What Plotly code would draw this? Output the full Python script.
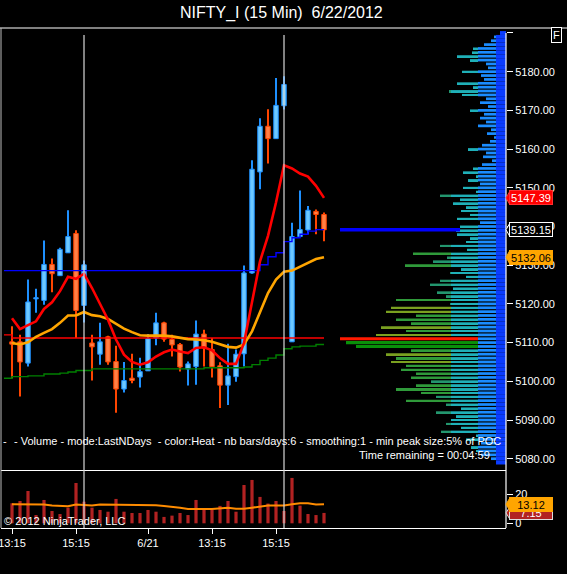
import plotly.graph_objects as go

# ---------------- data ----------------
bar_index = list(range(40))
opens = [5110.2, 5110.2, 5104.7, 5121.3, 5120.9, 5130.2, 5127.3, 5133.2, 5138.2, 5119.6,
         5109.9, 5107.0, 5111.5, 5105.1, 5098.0, 5100.8, 5101.1, 5102.7, 5111.2, 5115.1,
         5110.8, 5109.5, 5103.2, 5103.8, 5112.2, 5108.2, 5104.0, 5099.0, 5101.2, 5107.1,
         5128.0, 5154.1, 5165.9, 5162.7, 5171.2, 5110.2, 5137.4, 5139.1, 5143.9, 5143.1]
highs = [5114.2, 5112.0, 5126.3, 5123.9, 5136.4, 5131.7, 5134.5, 5144.2, 5139.0, 5131.2,
         5112.0, 5115.1, 5111.8, 5109.2, 5105.0, 5107.1, 5106.1, 5112.2, 5117.7, 5115.4,
         5112.0, 5109.9, 5105.1, 5115.7, 5113.3, 5111.2, 5104.9, 5109.7, 5108.2, 5129.9,
         5157.1, 5168.0, 5170.3, 5178.4, 5178.8, 5141.0, 5149.3, 5145.3, 5144.4, 5143.6]
lows = [5100.8, 5096.1, 5103.8, 5117.7, 5119.8, 5123.0, 5127.2, 5133.2, 5111.2, 5115.2,
        5100.2, 5104.3, 5104.3, 5091.9, 5097.1, 5099.5, 5098.4, 5102.7, 5109.3, 5110.2,
        5106.4, 5102.5, 5098.9, 5099.1, 5103.8, 5101.0, 5093.1, 5093.9, 5099.9, 5103.8,
        5127.8, 5149.6, 5156.3, 5162.7, 5170.2, 5110.2, 5137.2, 5138.0, 5138.0, 5136.2]
closes = [5109.6, 5105.0, 5120.5, 5121.6, 5130.2, 5127.8, 5134.1, 5137.4, 5118.3, 5130.1,
          5108.9, 5110.2, 5105.0, 5098.0, 5100.2, 5100.2, 5102.5, 5111.0, 5115.1, 5110.9,
          5109.4, 5103.7, 5104.5, 5112.2, 5108.6, 5103.8, 5099.0, 5101.4, 5107.0, 5128.0,
          5154.8, 5165.9, 5162.7, 5171.3, 5176.7, 5137.4, 5139.2, 5144.2, 5143.1, 5139.15]

fast_ma = [5116.3, 5113.5, 5114.5, 5115.5, 5118.7, 5120.4, 5123.3, 5127.0, 5126.5, 5127.8,
           5124.1, 5120.1, 5115.9, 5110.8, 5106.9, 5105.0, 5104.3, 5104.9, 5106.4, 5107.5,
           5108.2, 5107.7, 5107.3, 5108.6, 5108.8, 5108.0, 5106.0, 5104.5, 5104.5, 5109.9,
           5120.3, 5131.0, 5137.6, 5146.2, 5155.8, 5155.0, 5153.7, 5152.9, 5150.5, 5147.39]
slow_ma = [5109.9, 5109.5, 5110.1, 5111.5, 5112.5, 5113.5, 5115.1, 5117.0, 5117.0, 5117.9,
           5117.1, 5116.8, 5116.1, 5114.8, 5113.6, 5112.7, 5111.9, 5111.8, 5111.8, 5111.8,
           5111.6, 5111.2, 5110.9, 5110.8, 5110.6, 5110.2, 5109.5, 5108.9, 5108.7, 5109.5,
           5112.9, 5118.1, 5122.8, 5126.3, 5128.3, 5128.6, 5129.6, 5130.6, 5131.6, 5132.06]

step_index = list(range(-1, 40))
trend_level = [5128.6] * 32 + [5130.1, 5132.2, 5133.2, 5136.1, 5137.1, 5138.0, 5138.8, 5139.2, 5139.2]
support_level = [5100.8, 5101.2, 5101.2, 5101.4, 5101.4, 5101.9, 5101.9, 5102.1, 5102.4, 5102.8,
                 5102.8] + [5103.2] * 14 + [5103.5] * 5 + [5103.7, 5104.3, 5105.4, 5106.0, 5106.8,
                 5108.4, 5108.9, 5109.1, 5109.1, 5109.5, 5109.5]
pivot_level = [5112.0] + [5111.2] * 40

volume = [13.8, 15.4, 22.3, 5.7, 16.1, 8.5, 6.4, 10.8, 27.8, 14.9,
          10.8, 9.2, 8.0, 16.8, 8.0, 7.1, 7.1, 9.2, 8.0, 4.4,
          5.3, 7.1, 5.7, 16.1, 9.2, 9.2, 12.0, 15.4, 8.0, 26.4,
          29.9, 18.2, 13.6, 15.4, 8.5, 31.3, 12.2, 6.4, 5.7, 7.15]
volume_ma = [13.1, 13.1, 13.1, 12.9, 12.9, 12.2, 11.7, 11.7, 12.9, 12.6,
             12.2, 12.9, 12.9, 12.9, 12.9, 12.9, 12.9, 12.9, 12.4, 12.0,
             11.5, 10.8, 9.9, 10.1, 9.9, 9.9, 10.3, 10.8, 10.1, 10.1,
             10.8, 11.7, 12.2, 12.2, 12.2, 13.1, 13.8, 13.8, 12.9, 13.12]

profile_prices = list(range(5190, 5078, -1))
profile_volume = [6, 12, 15, 22, 33, 34, 49, 36, 20, 18,
                  44, 25, 22, 49, 33, 57, 44, 20, 26, 18,
                  36, 22, 26, 20, 28, 15, 19, 12, 16, 24,
                  38, 20, 23, 14, 24, 33, 43, 30, 38, 26,
                  43, 30, 66, 46, 53, 40, 45, 36, 49, 26,
                  46, 50, 49, 36, 40, 66, 39, 93, 59, 73,
                  101, 45, 56, 40, 66, 76, 53, 69, 60, 110,
                  56, 115, 120, 90, 110, 95, 125, 100, 130, 166,
                  160, 150, 95, 120, 110, 115, 100, 105, 90, 95,
                  75, 90, 110, 85, 70, 100, 60, 45, 70, 50,
                  55, 60, 45, 65, 30, 40, 25, 35, 30, 25,
                  15, 10]

xtick_pos = [0, 8, 17, 25, 33]
xtick_text = ["13:15", "15:15", "6/21", "13:15", "15:15"]
price_ticks = list(range(5080, 5191, 10))
volume_ticks = [0, 20]
session_lines = [9, 34]

# ---------------- layout geometry ----------------
W, H = 567, 574
LM, RM, TM, BM = 1, 61, 28, 46
PW, PH = W - LM - RM, H - TM - BM


def pxx(px):
    return (px - LM) / PW


def pxy(py):
    return (H - BM - py) / PH


FONT = "Liberation Sans, Arial, sans-serif"
UP_FILL, UP_LINE = "#6cc8ff", "#1e90ff"
DN_FILL, DN_LINE = "#ff7f45", "#ff4500"

up = [c >= o for o, c in zip(opens, closes)]
fills = [UP_FILL if u else DN_FILL for u in up]
edges = [UP_LINE if u else DN_LINE for u in up]

fig = go.Figure()

# wicks
fig.add_trace(go.Bar(x=bar_index, y=[h - l for h, l in zip(highs, lows)], base=lows,
                     width=0.2, marker=dict(color=edges, line=dict(width=0)),
                     xaxis="x", yaxis="y", hoverinfo="skip"))
# bodies
fig.add_trace(go.Bar(x=bar_index, y=[max(abs(c - o), 0.25) for o, c in zip(opens, closes)],
                     base=[min(o, c) for o, c in zip(opens, closes)],
                     width=0.56, marker=dict(color=fills, line=dict(color=edges, width=1)),
                     xaxis="x", yaxis="y"))

# indicator lines
fig.add_trace(go.Scatter(x=step_index, y=trend_level, mode="lines", line_shape="hv",
                         line=dict(color="#0000ff", width=1.4), xaxis="x", yaxis="y"))
fig.add_trace(go.Scatter(x=step_index, y=support_level, mode="lines", line_shape="hv",
                         line=dict(color="#008000", width=1.4), xaxis="x", yaxis="y"))
fig.add_trace(go.Scatter(x=step_index, y=pivot_level, mode="lines", line_shape="hv",
                         line=dict(color="#ff0000", width=1.4), xaxis="x", yaxis="y"))
fig.add_trace(go.Scatter(x=bar_index, y=slow_ma, mode="lines",
                         line=dict(color="#ffa500", width=2.6), xaxis="x", yaxis="y"))
fig.add_trace(go.Scatter(x=bar_index, y=fast_ma, mode="lines",
                         line=dict(color="#ff0000", width=2.6), xaxis="x", yaxis="y"))

# volume panel
fig.add_trace(go.Bar(x=bar_index, y=volume, width=0.4, marker=dict(color="#b22222", line=dict(width=0)),
                     xaxis="x2", yaxis="y2"))
fig.add_trace(go.Scatter(x=bar_index, y=volume_ma, mode="lines",
                         line=dict(color="#ff8c00", width=2), xaxis="x2", yaxis="y2"))

# volume profile (drawn leftwards from the price axis, coloured in heat bands)
SEG_A, SEG_B, SEG_C = 10, 28, 55
POC = max(profile_volume)


def heat(v):
    if v >= POC:
        return "#ff1a00"
    if v >= 140:
        return "#0a900a"
    if v >= 112:
        return "#7aa020"
    if v >= 85:
        return "#2f9a3a"
    return "#23966e"


def thick(v, w):
    return 0.8 if v >= 140 else w


segments = [
    (0, SEG_A, 1.0, lambda v: "#0a3cff"),
    (SEG_A, SEG_B, 0.7, lambda v: "#1a8cff"),
    (SEG_B, SEG_C, 0.5, lambda v: heat(v) if v >= 140 else "#1fb0b8"),
    (SEG_C, 10 ** 6, 0.5, heat),
]
for lo, hi, w, colf in segments:
    fig.add_trace(go.Bar(orientation="h", y=profile_prices,
                         x=[max(0, min(v, hi) - lo) for v in profile_volume], base=lo,
                         width=[thick(v, w) if lo >= SEG_B else w for v in profile_volume],
                         marker=dict(color=[colf(v) for v in profile_volume], line=dict(width=0)),
                         xaxis="x3", yaxis="y"))

shapes = []
# frame lines
shapes.append(dict(type="line", xref="paper", yref="paper", x0=pxx(0), x1=pxx(W), y0=1, y1=1,
                   line=dict(color="white", width=1.2)))
shapes.append(dict(type="line", xref="paper", yref="paper", x0=pxx(1), x1=pxx(1), y0=0, y1=1,
                   line=dict(color="#bbbbbb", width=1)))
shapes.append(dict(type="line", xref="paper", yref="paper", x0=1, x1=1, y0=0, y1=pxy(33),
                   line=dict(color="white", width=1.2)))
# session lines
for s in session_lines:
    shapes.append(dict(type="line", xref="x", yref="paper", x0=s, x1=s, y0=0, y1=pxy(35),
                       line=dict(color="#d8d8d8", width=1.2), layer="above"))
# current price line
shapes.append(dict(type="line", xref="x", yref="y", x0=41, x1=56, y0=closes[-1], y1=closes[-1],
                   line=dict(color="#0000ff", width=3.5), layer="above"))

annotations = []


def value_tag(val, yref, txt, bg, fg, border, half):
    shapes.append(dict(type="path", xref="paper", yref=yref,
                       path=f"M {pxx(506)},{val} L {pxx(510)},{val + half} L {pxx(510)},{val - half} Z",
                       fillcolor=bg, line=dict(color=border, width=1), layer="above"))
    annotations.append(dict(xref="paper", yref=yref, x=pxx(509), y=val, xanchor="left", yanchor="middle",
                            text=txt, showarrow=False, bgcolor=bg, bordercolor=border, borderwidth=1,
                            borderpad=0, width=42, height=13,
                            font=dict(family=FONT, size=11, color=fg)))


value_tag(fast_ma[-1], "y", f"{fast_ma[-1]:.2f}", "#ff0000", "white", "#ff3030", 1.8)
value_tag(closes[-1], "y", f"{closes[-1]:.2f}", "black", "white", "white", 1.8)
value_tag(slow_ma[-1], "y", f"{slow_ma[-1]:.2f}", "#ffa500", "black", "#ffa500", 1.8)
value_tag(volume[-1], "y2", f"{volume[-1]:.2f}", "#b22222", "white", "#dddddd", 4.5)
value_tag(volume_ma[-1], "y2", f"{volume_ma[-1]:.2f}", "#ffa500", "black", "#ffa500", 4.5)

annotations += [
    dict(xref="paper", yref="paper", x=pxx(281), y=pxy(13), text="NIFTY_I (15 Min)  6/22/2012",
         showarrow=False, font=dict(family=FONT, size=16, color="white"), xanchor="center", yanchor="middle"),
    dict(xref="paper", yref="paper", x=pxx(556), y=pxy(35), text="F", showarrow=False,
         bordercolor="white", borderwidth=1, borderpad=1, bgcolor="black",
         font=dict(family=FONT, size=11, color="white"), xanchor="center", yanchor="middle"),
    dict(xref="paper", yref="paper", x=pxx(1), y=pxy(441), text="-", showarrow=False,
         font=dict(family=FONT, size=11, color="white"), xanchor="left", yanchor="middle"),
    dict(xref="paper", yref="paper", x=pxx(503), y=pxy(441),
         text="- Volume - mode:LastNDays  - color:Heat - nb bars/days:6 - smoothing:1 - min peak size:5% of POC",
         showarrow=False, font=dict(family=FONT, size=11, color="white"), xanchor="right", yanchor="middle"),
    dict(xref="paper", yref="paper", x=pxx(492), y=pxy(455), text="Time remaining = 00:04:59",
         showarrow=False, font=dict(family=FONT, size=11, color="white"), xanchor="right", yanchor="middle"),
    dict(xref="paper", yref="paper", x=pxx(2), y=pxy(521), text="© 2012 NinjaTrader, LLC",
         showarrow=False, font=dict(family=FONT, size=11, color="white"), xanchor="left", yanchor="middle"),
]

fig.update_layout(
    width=W, height=H, margin=dict(l=LM, r=RM, t=TM, b=BM, pad=0, autoexpand=False),
    paper_bgcolor="black", plot_bgcolor="black", showlegend=False, barmode="overlay",
    font=dict(family=FONT, size=11, color="white"),
    xaxis=dict(domain=[0, 1], range=[-1.375, 61.75], anchor="y", showticklabels=False, ticks="",
               showgrid=False, zeroline=False, showline=True, linecolor="white", linewidth=1.2,
               automargin=False),
    xaxis2=dict(domain=[0, 1], matches="x", anchor="y2", tickmode="array", tickvals=xtick_pos,
                ticktext=xtick_text, ticks="outside", ticklen=5, tickcolor="white", showgrid=False,
                zeroline=False, showline=True, linecolor="white", linewidth=1.2, automargin=False,
                ticklabeloverflow="allow", tickfont=dict(family=FONT, size=11, color="white")),
    xaxis3=dict(overlaying="x", anchor="y", range=[PW, 0], visible=False),
    yaxis=dict(domain=[pxy(470), 1], range=[5077.08, 5191.29], side="right", tickmode="array",
               tickvals=price_ticks, ticktext=[f"{t:.2f}" if t < 5190 else "" for t in price_ticks],
               ticks="outside", ticklen=6, tickcolor="white", showgrid=False, zeroline=False,
               showline=False, automargin=False, tickfont=dict(family=FONT, size=11, color="white")),
    yaxis2=dict(domain=[0, pxy(471)], range=[-3.24, 36.07], side="right", tickmode="array",
                tickvals=volume_ticks, ticks="outside", ticklen=6, tickcolor="white", showgrid=False,
                zeroline=False, showline=False, automargin=False,
                tickfont=dict(family=FONT, size=11, color="white")),
    shapes=shapes, annotations=annotations,
)

fig.write_html("out.html", config={"displayModeBar": False},
               post_script="document.body.style.margin='0px';document.body.style.background='black';")
